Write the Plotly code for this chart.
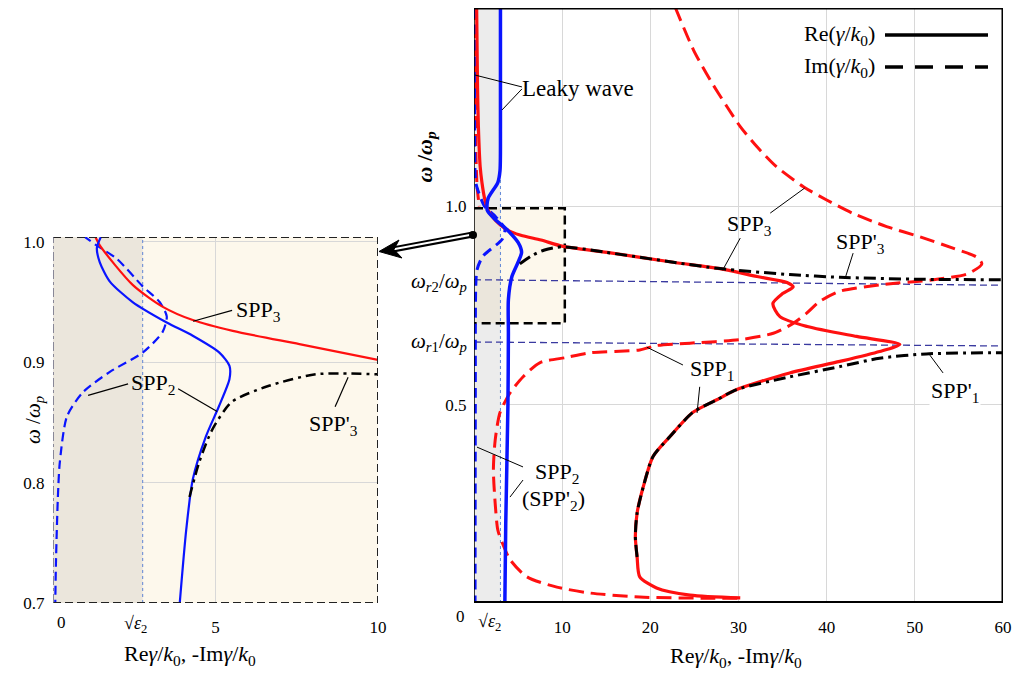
import plotly.graph_objects as go

W, H = 1019, 673
FONT = "Liberation Serif, Times New Roman, serif"


def px(x):
    return x / W


def py(y):
    return 1 - y / H


# ---------------- main panel data (x: Re/-Im gamma/k0, y: omega/omega_p) ----------------
sqrt_eps2_main = 3.0

re_red_x = [30.2, 24.5, 20.7, 18.8, 18.5, 18.3, 18.5, 19.2, 20.3, 22.2, 24.8, 27.6, 29.8, 35.8, 41.5, 46.0,
            48.3, 43.4, 37.8, 34.7, 33.9, 35.0, 36.2, 35.5, 32.1, 27.9, 22.6, 15.1, 10.1, 7.6, 5.5, 4.3,
            3.4, 2.5, 1.6, 1.2, 0.9, 0.7, 0.5, 0.4, 0.3]
re_red_y = [0.013, 0.02, 0.038, 0.066, 0.116, 0.167, 0.227, 0.293, 0.369, 0.419, 0.48, 0.513, 0.538, 0.58,
            0.609, 0.634, 0.652, 0.672, 0.697, 0.722, 0.755, 0.78, 0.797, 0.808, 0.823, 0.843, 0.859, 0.884,
            0.899, 0.915, 0.926, 0.935, 0.946, 0.963, 0.99, 1.02, 1.06, 1.1, 1.2, 1.3, 1.5]

im_red_x = [22.8, 24.9, 26.8, 28.7, 30.2, 32.1, 34.3, 37.4, 40.0, 43.0, 46.8, 50.6, 54.4, 57.0, 57.6, 56.0,
            52.1, 46.0, 41.5, 39.2, 37.7, 36.2, 33.95, 30.2, 24.5, 20.7, 18.8, 13.2, 10.5, 7.5, 5.6, 4.1,
            2.95, 2.4, 2.2, 2.4, 2.7, 3.2, 4.1, 6.0, 9.4, 13.2, 18.8, 26.4, 30.2]
im_red_y = [1.503, 1.394, 1.318, 1.251, 1.201, 1.15, 1.1, 1.049, 1.016, 0.982, 0.949, 0.923, 0.894, 0.872,
            0.855, 0.83, 0.815, 0.802, 0.786, 0.76, 0.73, 0.705, 0.68, 0.664, 0.655, 0.649, 0.638, 0.631,
            0.619, 0.606, 0.571, 0.53, 0.48, 0.41, 0.336, 0.252, 0.184, 0.152, 0.109, 0.066, 0.04, 0.025,
            0.015, 0.012, 0.012]

im_red_leaky_x = [0.12, 0.15, 0.2, 0.35, 0.6]
im_red_leaky_y = [1.5, 1.3, 1.15, 1.05, 1.0]

re_blue_x = [3.0, 3.0, 2.95, 2.7, 1.6, 1.5, 2.4, 3.7, 5.0, 5.4, 5.0, 4.3, 3.9, 3.9, 3.85, 3.6, 3.5]
re_blue_y = [1.5, 1.2, 1.09, 1.06, 1.02, 0.99, 0.967, 0.942, 0.909, 0.884, 0.859, 0.823, 0.765, 0.68, 0.5,
             0.2, 0.0]

im_blue_x = [0.1, 0.1, 0.2, 0.45, 1.2, 2.4, 3.5, 3.2, 1.0, 0.34, 0.2, 0.15, 0.12]
im_blue_y = [1.5, 1.1, 1.06, 1.04, 1.0, 0.975, 0.942, 0.917, 0.874, 0.84, 0.8, 0.5, 0.0]

spp1p_x = [18.5, 18.3, 18.5, 19.2, 20.3, 22.2, 24.8, 27.6, 29.8, 35.8, 41.5, 46.0, 51.3, 60.0]
spp1p_y = [0.116, 0.167, 0.227, 0.293, 0.369, 0.419, 0.48, 0.513, 0.538, 0.57, 0.596, 0.617, 0.628, 0.631]

spp3p_x = [5.2, 6.5, 8.0, 10.0, 15.0, 22.6, 27.9, 35.8, 41.5, 50.9, 60.0]
spp3p_y = [0.855, 0.875, 0.89, 0.898, 0.884, 0.859, 0.843, 0.828, 0.821, 0.816, 0.815]

wr2_x, wr2_y = [0, 60], [0.815, 0.801]
wr1_x, wr1_y = [0, 60], [0.658, 0.648]

main_xticks = [10, 20, 30, 40, 50, 60]
main_yticks = [0.5, 1.0, 1.5]

# ---------------- inset data (zoom of 0..10 x 0.7..1.0) ----------------
sqrt_eps2_inset = 2.76

in_red_x = [1.29, 1.44, 2.46, 3.38, 4.30, 5.53, 7.58, 10.0]
in_red_y = [1.005, 0.997, 0.964, 0.946, 0.935, 0.926, 0.915, 0.902]

in_blue_x = [1.49, 1.35, 1.44, 1.75, 2.45, 3.5, 4.3, 5.12, 5.43, 5.43, 5.1, 4.7, 4.3, 4.1, 3.9]
in_blue_y = [1.005, 0.995, 0.983, 0.967, 0.95, 0.933, 0.922, 0.908, 0.897, 0.886, 0.863, 0.838, 0.8025,
             0.761, 0.7]

in_blue_d_x = [0.93, 1.34, 1.96, 2.76, 3.28, 3.5, 3.37, 2.76, 1.75, 0.92, 0.43, 0.21, 0.15, 0.09, 0.07]
in_blue_d_y = [1.005, 0.997, 0.986, 0.963, 0.95, 0.938, 0.925, 0.908, 0.892, 0.875, 0.855, 0.817, 0.788,
               0.733, 0.7]

in_spp3p_x = [4.2, 4.5, 4.9, 5.5, 6.6, 8.1, 10.0]
in_spp3p_y = [0.788, 0.817, 0.844, 0.867, 0.88, 0.89, 0.89]

inset_xticks = [5, 10]
inset_yticks = [0.7, 0.8, 0.9, 1.0]

RED = "#ff1010"
BLUE = "#0a14ff"

fig = go.Figure()


def add_line(x, y, color, width, dash, ax="x", ay="y", smooth=True):
    fig.add_trace(go.Scatter(
        x=x, y=y, mode="lines", xaxis=ax, yaxis=ay, hoverinfo="skip", showlegend=False,
        line=dict(color=color, width=width, dash=dash,
                  shape="spline" if smooth else "linear", smoothing=0.7)))


# main panel traces
add_line(wr2_x, wr2_y, "#3a3aa0", 1.3, "7px,4px", smooth=False)
add_line(wr1_x, wr1_y, "#3a3aa0", 1.3, "7px,4px", smooth=False)
add_line(im_red_x, im_red_y, RED, 3, "15px,7px")
add_line(im_red_leaky_x, im_red_leaky_y, RED, 3, "12px,6px")
add_line(im_blue_x, im_blue_y, BLUE, 3, "10px,6px")
add_line(re_red_x, re_red_y, RED, 3.2, "solid")
add_line(re_blue_x, re_blue_y, BLUE, 3.5, "solid")
add_line(spp1p_x, spp1p_y, "black", 3, "12px,5px,3px,5px")
add_line(spp3p_x, spp3p_y, "black", 3, "12px,5px,3px,5px")

# inset traces
add_line(in_blue_d_x, in_blue_d_y, BLUE, 2.2, "9px,5px", "x2", "y2")
add_line(in_red_x, in_red_y, RED, 2.2, "solid", "x2", "y2")
add_line(in_blue_x, in_blue_y, BLUE, 2.2, "solid", "x2", "y2")
add_line(in_spp3p_x, in_spp3p_y, "black", 2.5, "10px,5px,3px,5px", "x2", "y2")

shapes = []
# main panel backgrounds
shapes.append(dict(type="rect", xref="x", yref="y", x0=0, x1=sqrt_eps2_main, y0=0, y1=1.5,
                   fillcolor="#ececec", line=dict(width=0), layer="between"))
shapes.append(dict(type="rect", xref="x", yref="y", x0=sqrt_eps2_main, x1=10.3, y0=0.705, y1=0.995,
                   fillcolor="#fdf8ec", line=dict(width=0), layer="between"))
shapes.append(dict(type="rect", xref="x", yref="y", x0=0, x1=sqrt_eps2_main, y0=0.705, y1=0.995,
                   fillcolor="#ebe6dc", line=dict(width=0), layer="between"))
shapes.append(dict(type="path", xref="x", yref="y", path="M 0,0.995 L 10.3,0.995 L 10.3,0.705 L 0,0.705",
                   line=dict(color="black", width=2.5, dash="9px,5px"), layer="between"))
shapes.append(dict(type="line", xref="x", yref="y", x0=sqrt_eps2_main, x1=sqrt_eps2_main, y0=0, y1=1.5,
                   line=dict(color="#5f86d6", width=1, dash="dot"), layer="between"))
# main borders
shapes.append(dict(type="line", xref="x", yref="y", x0=0, x1=60, y0=1.5, y1=1.5,
                   line=dict(color="black", width=3)))
shapes.append(dict(type="line", xref="x", yref="y", x0=60, x1=60, y0=0, y1=1.5,
                   line=dict(color="black", width=3)))
shapes.append(dict(type="line", xref="x", yref="y", x0=0, x1=60, y0=0, y1=0,
                   line=dict(color="black", width=4)))
shapes.append(dict(type="line", xref="x", yref="y", x0=0, x1=0, y0=0, y1=1.5,
                   line=dict(color="black", width=1.5)))

# inset backgrounds
shapes.append(dict(type="rect", xref="x2", yref="y2", x0=0, x1=10, y0=0.7, y1=1.004,
                   fillcolor="#fdf8ec", line=dict(width=0), layer="below"))
shapes.append(dict(type="rect", xref="x2", yref="y2", x0=0, x1=sqrt_eps2_inset, y0=0.7, y1=1.004,
                   fillcolor="#ebe6dc", line=dict(width=0), layer="between"))
shapes.append(dict(type="line", xref="x2", yref="y2", x0=sqrt_eps2_inset, x1=sqrt_eps2_inset, y0=0.7,
                   y1=1.004, line=dict(color="#5f86d6", width=1, dash="dot"), layer="between"))
shapes.append(dict(type="path", xref="x2", yref="y2", path="M 0,1.004 L 10,1.004 L 10,0.7 L 0,0.7",
                   line=dict(color="#222222", width=2, dash="8px,4px")))
shapes.append(dict(type="line", xref="x2", yref="y2", x0=0, x1=0, y0=0.7, y1=1.004,
                   line=dict(color="#6a6a80", width=1.5, dash="dashdot")))

# leader lines (data coordinates)
leaders_main = [
    ((5.44, 1.301), (0.11, 1.331)), ((5.44, 1.296), (3.18, 1.243)),
    ((33.6, 0.983), (37.5, 1.046)), ((30.2, 0.920), (28.2, 0.839)),
    ((43.0, 0.882), (42.1, 0.819)),
    ((23.7, 0.600), (19.6, 0.645)), ((25.6, 0.545), (25.3, 0.479)),
    ((53.2, 0.580), (51.7, 0.625)),
    ((5.56, 0.343), (0.34, 0.393)), ((5.56, 0.310), (4.08, 0.267)),
]
for (a, b) in leaders_main:
    shapes.append(dict(type="line", xref="x", yref="y", x0=a[0], y0=a[1], x1=b[0], y1=b[1],
                       line=dict(color="black", width=1)))
leaders_inset = [
    ((5.51, 0.943), (4.31, 0.934)),
    ((2.31, 0.882), (1.08, 0.8725)), ((3.85, 0.878), (5.05, 0.859)),
    ((8.68, 0.863), (9.08, 0.8875)),
]
for (a, b) in leaders_inset:
    shapes.append(dict(type="line", xref="x2", yref="y2", x0=a[0], y0=a[1], x1=b[0], y1=b[1],
                       line=dict(color="black", width=1.2)))

# legend keys
shapes.append(dict(type="line", xref="paper", yref="paper", x0=px(885), x1=px(988), y0=py(35), y1=py(35),
                   line=dict(color="black", width=3.5)))
shapes.append(dict(type="line", xref="paper", yref="paper", x0=px(885), x1=px(988), y0=py(67), y1=py(67),
                   line=dict(color="black", width=3.5, dash="18px,12px")))

# double-line arrow from main panel to inset
shapes.append(dict(type="line", xref="paper", yref="paper", x0=px(473), y0=py(234.5), x1=px(393), y1=py(249.5),
                   line=dict(color="black", width=6)))
shapes.append(dict(type="line", xref="paper", yref="paper", x0=px(471), y0=py(234.8), x1=px(391), y1=py(249.8),
                   line=dict(color="white", width=2)))
shapes.append(dict(type="path", xref="paper", yref="paper",
                   path=f"M {px(379)},{py(251.5)} L {px(399)},{py(240)} L {px(394)},{py(249.5)} "
                        f"L {px(402)},{py(258)} Z",
                   fillcolor="black", line=dict(color="black", width=1)))
shapes.append(dict(type="circle", xref="paper", yref="paper", x0=px(469), x1=px(477), y0=py(231), y1=py(239),
                   fillcolor="black", line=dict(width=0)))

ann = []


def label(text, x, y, xref="x", yref="y", size=22, bg=None, xanchor="center"):
    d = dict(text=text, x=x, y=y, xref=xref, yref=yref, showarrow=False, xanchor=xanchor,
             yanchor="middle", font=dict(family=FONT, size=size, color="black"))
    if bg:
        d["bgcolor"] = bg
    ann.append(d)


# main labels
label("Leaky wave", 11.8, 1.298, size=23)
label("SPP<sub>3</sub>", 31.3, 0.953)
label("SPP'<sub>3</sub>", 43.8, 0.907)
label("SPP<sub>1</sub>", 27.0, 0.587)
label("SPP'<sub>1</sub>", 54.6, 0.532, bg="white")
label("SPP<sub>2</sub>", 9.4, 0.328)
label("(SPP'<sub>2</sub>)", 9.0, 0.260)
# inset labels
label("SPP<sub>3</sub>", 6.31, 0.9425, "x2", "y2")
label("SPP<sub>2</sub>", 3.08, 0.882, "x2", "y2")
label("SPP'<sub>3</sub>", 8.62, 0.848, "x2", "y2")

# extra tick-like labels
label("<i>ω</i><sub><i>r</i>2</sub>/<i>ω</i><sub><i>p</i></sub>", px(469), 0.809, xref="paper", size=21,
      xanchor="right")
label("<i>ω</i><sub><i>r</i>1</sub>/<i>ω</i><sub><i>p</i></sub>", px(469), 0.658, xref="paper", size=21,
      xanchor="right")
label("0", px(460), py(616), xref="paper", yref="paper", size=17)
label("√<i>ε</i><sub>2</sub>", px(489), py(622), xref="paper", yref="paper", size=18)
label("0", px(61), py(622), xref="paper", yref="paper", size=17)
label("√<i>ε</i><sub>2</sub>", px(135), py(624), xref="paper", yref="paper", size=18)

# legend text
label("Re(<i>γ</i>/<i>k</i><sub>0</sub>)", px(877), py(35), xref="paper", yref="paper", size=22,
      xanchor="right")
label("Im(<i>γ</i>/<i>k</i><sub>0</sub>)", px(877), py(67), xref="paper", yref="paper", size=22,
      xanchor="right")

# axis titles
label("Re<i>γ</i>/<i>k</i><sub>0</sub>, -Im<i>γ</i>/<i>k</i><sub>0</sub>", px(736), py(657),
      xref="paper", yref="paper", size=22)
label("Re<i>γ</i>/<i>k</i><sub>0</sub>, -Im<i>γ</i>/<i>k</i><sub>0</sub>", px(190), py(655),
      xref="paper", yref="paper", size=22)
ann.append(dict(text="<b><i>ω</i> /<i>ω<sub>p</sub></i></b>", x=px(425), y=py(130), xref="paper", yref="paper",
                showarrow=False, textangle=-90, font=dict(family=FONT, size=22, color="black")))
ann.append(dict(text="<i>ω</i> /<i>ω<sub>p</sub></i>", x=px(19), y=py(420), xref="paper", yref="paper",
                showarrow=False, textangle=-90, font=dict(family=FONT, size=21, color="black")))

tickfont = dict(family=FONT, size=17, color="black")
axis_common = dict(showgrid=True, gridcolor="#d8d8d8", gridwidth=1, zeroline=False, showline=False,
                   ticks="outside", tickcolor="rgba(0,0,0,0)", tickfont=tickfont, automargin=False,
                   fixedrange=True)

fig.update_layout(
    width=W, height=H, margin=dict(l=0, r=0, t=0, b=0),
    paper_bgcolor="white", plot_bgcolor="white", showlegend=False,
    xaxis=dict(domain=[px(474), px(1003)], range=[0, 60], tickvals=main_xticks, anchor="y", ticklen=9,
               **axis_common),
    yaxis=dict(domain=[py(603), py(8)], range=[0, 1.5], tickvals=main_yticks,
               ticktext=[f"{v:.1f}" for v in main_yticks], anchor="x", ticklen=3, **axis_common),
    xaxis2=dict(domain=[px(53), px(378)], range=[0, 10], tickvals=inset_xticks, anchor="y2", ticklen=9,
                **axis_common),
    yaxis2=dict(domain=[py(603), py(237)], range=[0.7, 1.004], tickvals=inset_yticks,
                ticktext=[f"{v:.1f}" for v in inset_yticks], anchor="x2", ticklen=4, **axis_common),
    shapes=shapes, annotations=ann,
)

fig.write_html("out.html")
